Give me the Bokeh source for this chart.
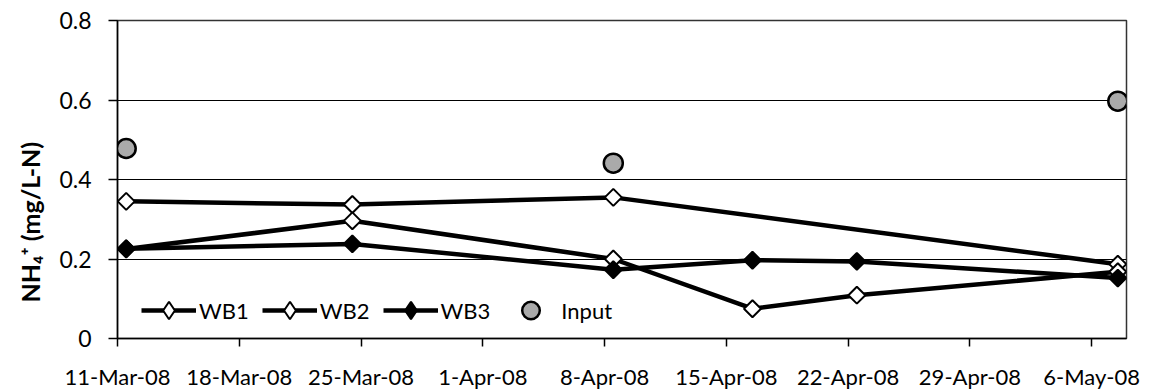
import numpy as np
import pandas as pd
from datetime import datetime
from bokeh.plotting import figure
from bokeh.models import Range1d, FixedTicker, Legend, LegendItem, Title
from bokeh.embed import file_html
from bokeh.resources import INLINE

# ---- data ----
wb1_dates = ["2008-03-11", "2008-03-24", "2008-04-08", "2008-05-07"]
wb1_vals = [0.345, 0.337, 0.355, 0.187]

wb_dates = ["2008-03-11", "2008-03-24", "2008-04-08", "2008-04-16", "2008-04-22", "2008-05-07"]
wb2_vals = [0.225, 0.296, 0.200, 0.075, 0.109, 0.168]
wb3_vals = [0.226, 0.238, 0.173, 0.197, 0.194, 0.152]

input_dates = ["2008-03-11", "2008-04-08", "2008-05-07"]
input_vals = [0.478, 0.441, 0.597]

x_tick_labels = ["11-Mar-08", "18-Mar-08", "25-Mar-08", "1-Apr-08", "8-Apr-08",
                 "15-Apr-08", "22-Apr-08", "29-Apr-08", "6-May-08"]
y_ticks = [0, 0.2, 0.4, 0.6, 0.8]
y_tick_labels = ["0", "0.2", "0.4", "0.6", "0.8"]

x_start, x_end = "2008-03-11", "2008-05-08"

FONT = "Lato"
FS = "22px"

def to_ms(ts):
    return pd.Timestamp(ts).value / 1e6

half_day = pd.Timedelta(hours=12)  # Excel plots daily points between tick marks

def xs(dates):
    return pd.to_datetime(dates) + half_day

p = figure(width=1158, height=392, x_axis_type="datetime",
           output_backend="svg", toolbar_location=None,
           x_range=Range1d(to_ms(x_start), to_ms(x_end)),
           y_range=Range1d(0, 0.8),
           min_border_left=117, min_border_right=32,
           min_border_top=20, min_border_bottom=54)

p.background_fill_color = "white"
p.border_fill_color = "white"
p.outline_line_color = "#333333"
p.outline_line_width = 1.5

# grid
p.xgrid.visible = False
p.ygrid.ticker = FixedTicker(ticks=y_ticks)
p.ygrid.grid_line_color = "black"
p.ygrid.grid_line_width = 1

# x axis
tick_ms = [to_ms(datetime.strptime(t, "%d-%b-%y")) for t in x_tick_labels]
xa = p.xaxis[0]
xa.ticker = FixedTicker(ticks=tick_ms)
xa.major_label_overrides = {ms: lab for ms, lab in zip(tick_ms, x_tick_labels)}
xa.minor_tick_line_color = None
xa.major_tick_in = 0
xa.major_tick_out = 8
xa.major_label_standoff = 16
xa.axis_line_color = "black"
xa.axis_line_width = 1.5
xa.major_tick_line_color = "black"
xa.major_tick_line_width = 1.5
xa.major_label_text_font = FONT
xa.major_label_text_font_size = FS
xa.major_label_text_color = "black"

# y axis
ya = p.yaxis[0]
ya.ticker = FixedTicker(ticks=y_ticks)
ya.major_label_overrides = {t: lab for t, lab in zip(y_ticks, y_tick_labels)}
ya.minor_tick_line_color = None
ya.major_tick_in = 0
ya.major_tick_out = 9
ya.major_label_standoff = 17
ya.axis_line_color = "black"
ya.axis_line_width = 1.5
ya.major_tick_line_color = "black"
ya.major_tick_line_width = 1.5
ya.major_label_text_font = FONT
ya.major_label_text_font_size = "23px"
ya.major_label_text_color = "black"

# y title (placed like the reference: a bit below the frame's centre)
p.add_layout(Title(text="NH\u2084\u207a (mg/L-N)", align="left", offset=36,
                   standoff=23, text_font=FONT, text_font_style="bold",
                   text_font_size="25px", text_color="black"), "left")

LW = 4.5
l1 = p.line(xs(wb1_dates), wb1_vals, line_color="black", line_width=LW)
s1 = p.scatter(xs(wb1_dates), wb1_vals, marker="square", angle=np.pi / 4, size=12,
               fill_color="white", line_color="black", line_width=2)
l2 = p.line(xs(wb_dates), wb2_vals, line_color="black", line_width=LW)
s2 = p.scatter(xs(wb_dates), wb2_vals, marker="square", angle=np.pi / 4, size=12,
               fill_color="white", line_color="black", line_width=2)
l3 = p.line(xs(wb_dates), wb3_vals, line_color="black", line_width=LW)
s3 = p.scatter(xs(wb_dates), wb3_vals, marker="square", angle=np.pi / 4, size=12,
               fill_color="black", line_color="black", line_width=2)
s4 = p.scatter(xs(input_dates), input_vals, marker="circle", size=19,
               fill_color="#aaaaaa", line_color="black", line_width=2.5)

# legend-only marker renderers (a single NaN placeholder, so nothing shows in the plot)
k1 = p.scatter([np.nan], [np.nan], marker="diamond", fill_color="white",
               line_color="black", line_width=2)
k3 = p.scatter([np.nan], [np.nan], marker="diamond", fill_color="black",
               line_color="black", line_width=2)

legend = Legend(items=[LegendItem(label="WB1", renderers=[l1, k1]),
                       LegendItem(label="WB2", renderers=[l2, k1]),
                       LegendItem(label="WB3", renderers=[l3, k3]),
                       LegendItem(label="Input", renderers=[s4])],
                orientation="horizontal", location=(24, 6),
                background_fill_alpha=0, border_line_alpha=0,
                padding=0, margin=0, spacing=13,
                glyph_width=55, glyph_height=44, label_standoff=3,
                label_text_font=FONT, label_text_font_size=FS,
                label_text_color="black")
p.add_layout(legend)

open("out.html", "w").write(file_html(p, INLINE))
